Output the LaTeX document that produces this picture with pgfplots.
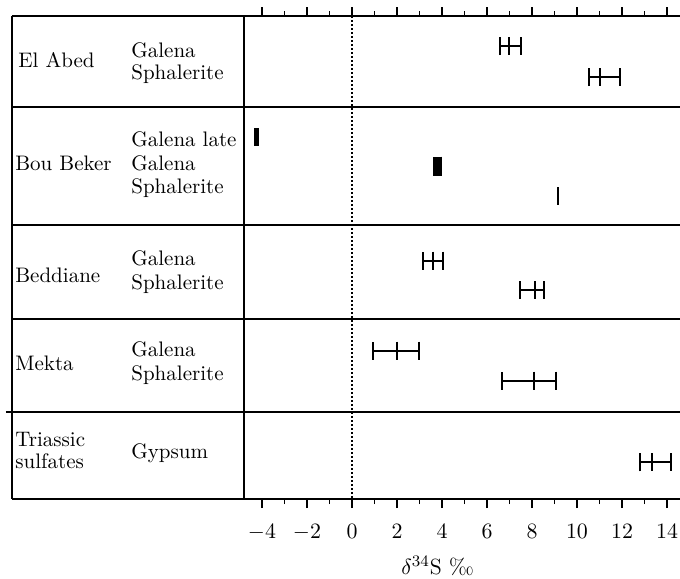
\documentclass[border=0pt]{standalone}
\usepackage{pgfplots}
\usepackage{pgfplotstable}
\pgfplotsset{compat=1.18}

% sample ranges: centre, row position (px from top), minus, plus
\pgfplotstableread{
x y em ep
7.0 46 0.40 0.50
11.0 77 0.45 0.90
3.6 260.7 0.43 0.46
8.13 290 0.66 0.40
1.99 350.7 1.04 1.00
8.09 380.7 1.44 0.96
13.32 462.3 0.52 0.85
}\ranges

\newcommand{\tfont}{\fontsize{10.5}{12}\selectfont}

\begin{document}
\begin{tikzpicture}
\begin{axis}[
  scale only axis,
  width=218pt, height=241.5pt,
  xmin=-4.8, xmax=14.578,
  ymin=16, ymax=499, y dir=reverse,
  axis x line=box, axis y line=left,
  y axis line style={-},
  axis line style={line width=1pt},
  ytick=\empty,
  xtick={-4,-2,...,14},
  minor xtick={-3,-1,...,13},
  xtick pos=both,
  xticklabel pos=lower,
  tick align=outside,
  major tick length=4.5pt,
  minor tick length=2.5pt,
  tick style={black, line width=0.8pt},
  xticklabel style={font=\fontsize{10.5}{12}\selectfont, yshift=-4.5pt},
  xlabel={$\delta^{34}$S \textperthousand},
  xlabel style={at={(axis description cs:0.444,0)}, anchor=base, yshift=-37.5pt, font=\fontsize{11}{13}\selectfont},
  clip=false,
]
% table grid
\draw[line width=1pt] (axis cs:-15.111,16) -- (axis cs:-4.8,16);
\draw[line width=1pt] (axis cs:-15.111,499) -- (axis cs:-4.8,499);
\draw[line width=1pt] (axis cs:-15.111,16) -- (axis cs:-15.111,499);
\draw[line width=1pt] (axis cs:-15.111,107) -- (axis cs:14.578,107);
\draw[line width=1pt] (axis cs:-15.111,225) -- (axis cs:14.578,225);
\draw[line width=1pt] (axis cs:-15.111,318.7) -- (axis cs:14.578,318.7);
\draw[line width=1pt] (axis cs:-15.378,412.3) -- (axis cs:14.578,412.3);

% zero line
\addplot[black, line width=0.75pt, dash pattern=on 1pt off 1pt] coordinates {(0,16) (0,499)};

% ranges
\addplot[black, line width=1pt, only marks, mark=|, mark size=4.5pt,
  error bars/.cd, x dir=both, x explicit,
  error bar style={line width=1pt},
  error mark options={black, line width=1pt, mark size=4.5pt, rotate=90}]
  table[x=x, y=y, x error minus=em, x error plus=ep] {\ranges};

% Bou Beker single values
\addplot[black, only marks, mark=|, mark size=4.5pt, mark options={line width=2.6pt}] coordinates {(-4.24,137)};
\addplot[black, only marks, mark=|, mark size=4.8pt, mark options={line width=4.1pt}] coordinates {(3.8,166.3)};
\addplot[black, only marks, mark=|, mark size=4.5pt, mark options={line width=1pt}] coordinates {(9.14,196)};

% labels
\begin{scope}[every node/.style={anchor=base west, inner sep=0pt, font=\tfont}]
\node at (axis cs:-14.844,67.3) {El Abed};
\node at (axis cs:-9.822,57.3) {Galena};
\node at (axis cs:-9.822,79.3) {Sphalerite};
\node at (axis cs:-14.978,170) {Bou Beker};
\node at (axis cs:-9.822,146) {Galena late};
\node at (axis cs:-9.822,170) {Galena};
\node at (axis cs:-9.822,193.3) {Sphalerite};
\node at (axis cs:-14.978,282.7) {Beddiane};
\node at (axis cs:-9.822,265) {Galena};
\node at (axis cs:-9.822,289.3) {Sphalerite};
\node at (axis cs:-14.978,370.7) {Mekta};
\node at (axis cs:-9.822,356.7) {Galena};
\node at (axis cs:-9.822,380.7) {Sphalerite};
\node at (axis cs:-14.978,446.7) {Triassic};
\node at (axis cs:-14.978,468.3) {sulfates};
\node at (axis cs:-9.822,458.3) {Gypsum};
\end{scope}

\coordinate (bbA) at (axis cs:-15.644,0);
\coordinate (bbB) at (axis cs:14.578,578);
\end{axis}
\pgfresetboundingbox
\useasboundingbox (bbA) rectangle (bbB);
\end{tikzpicture}
\end{document}
